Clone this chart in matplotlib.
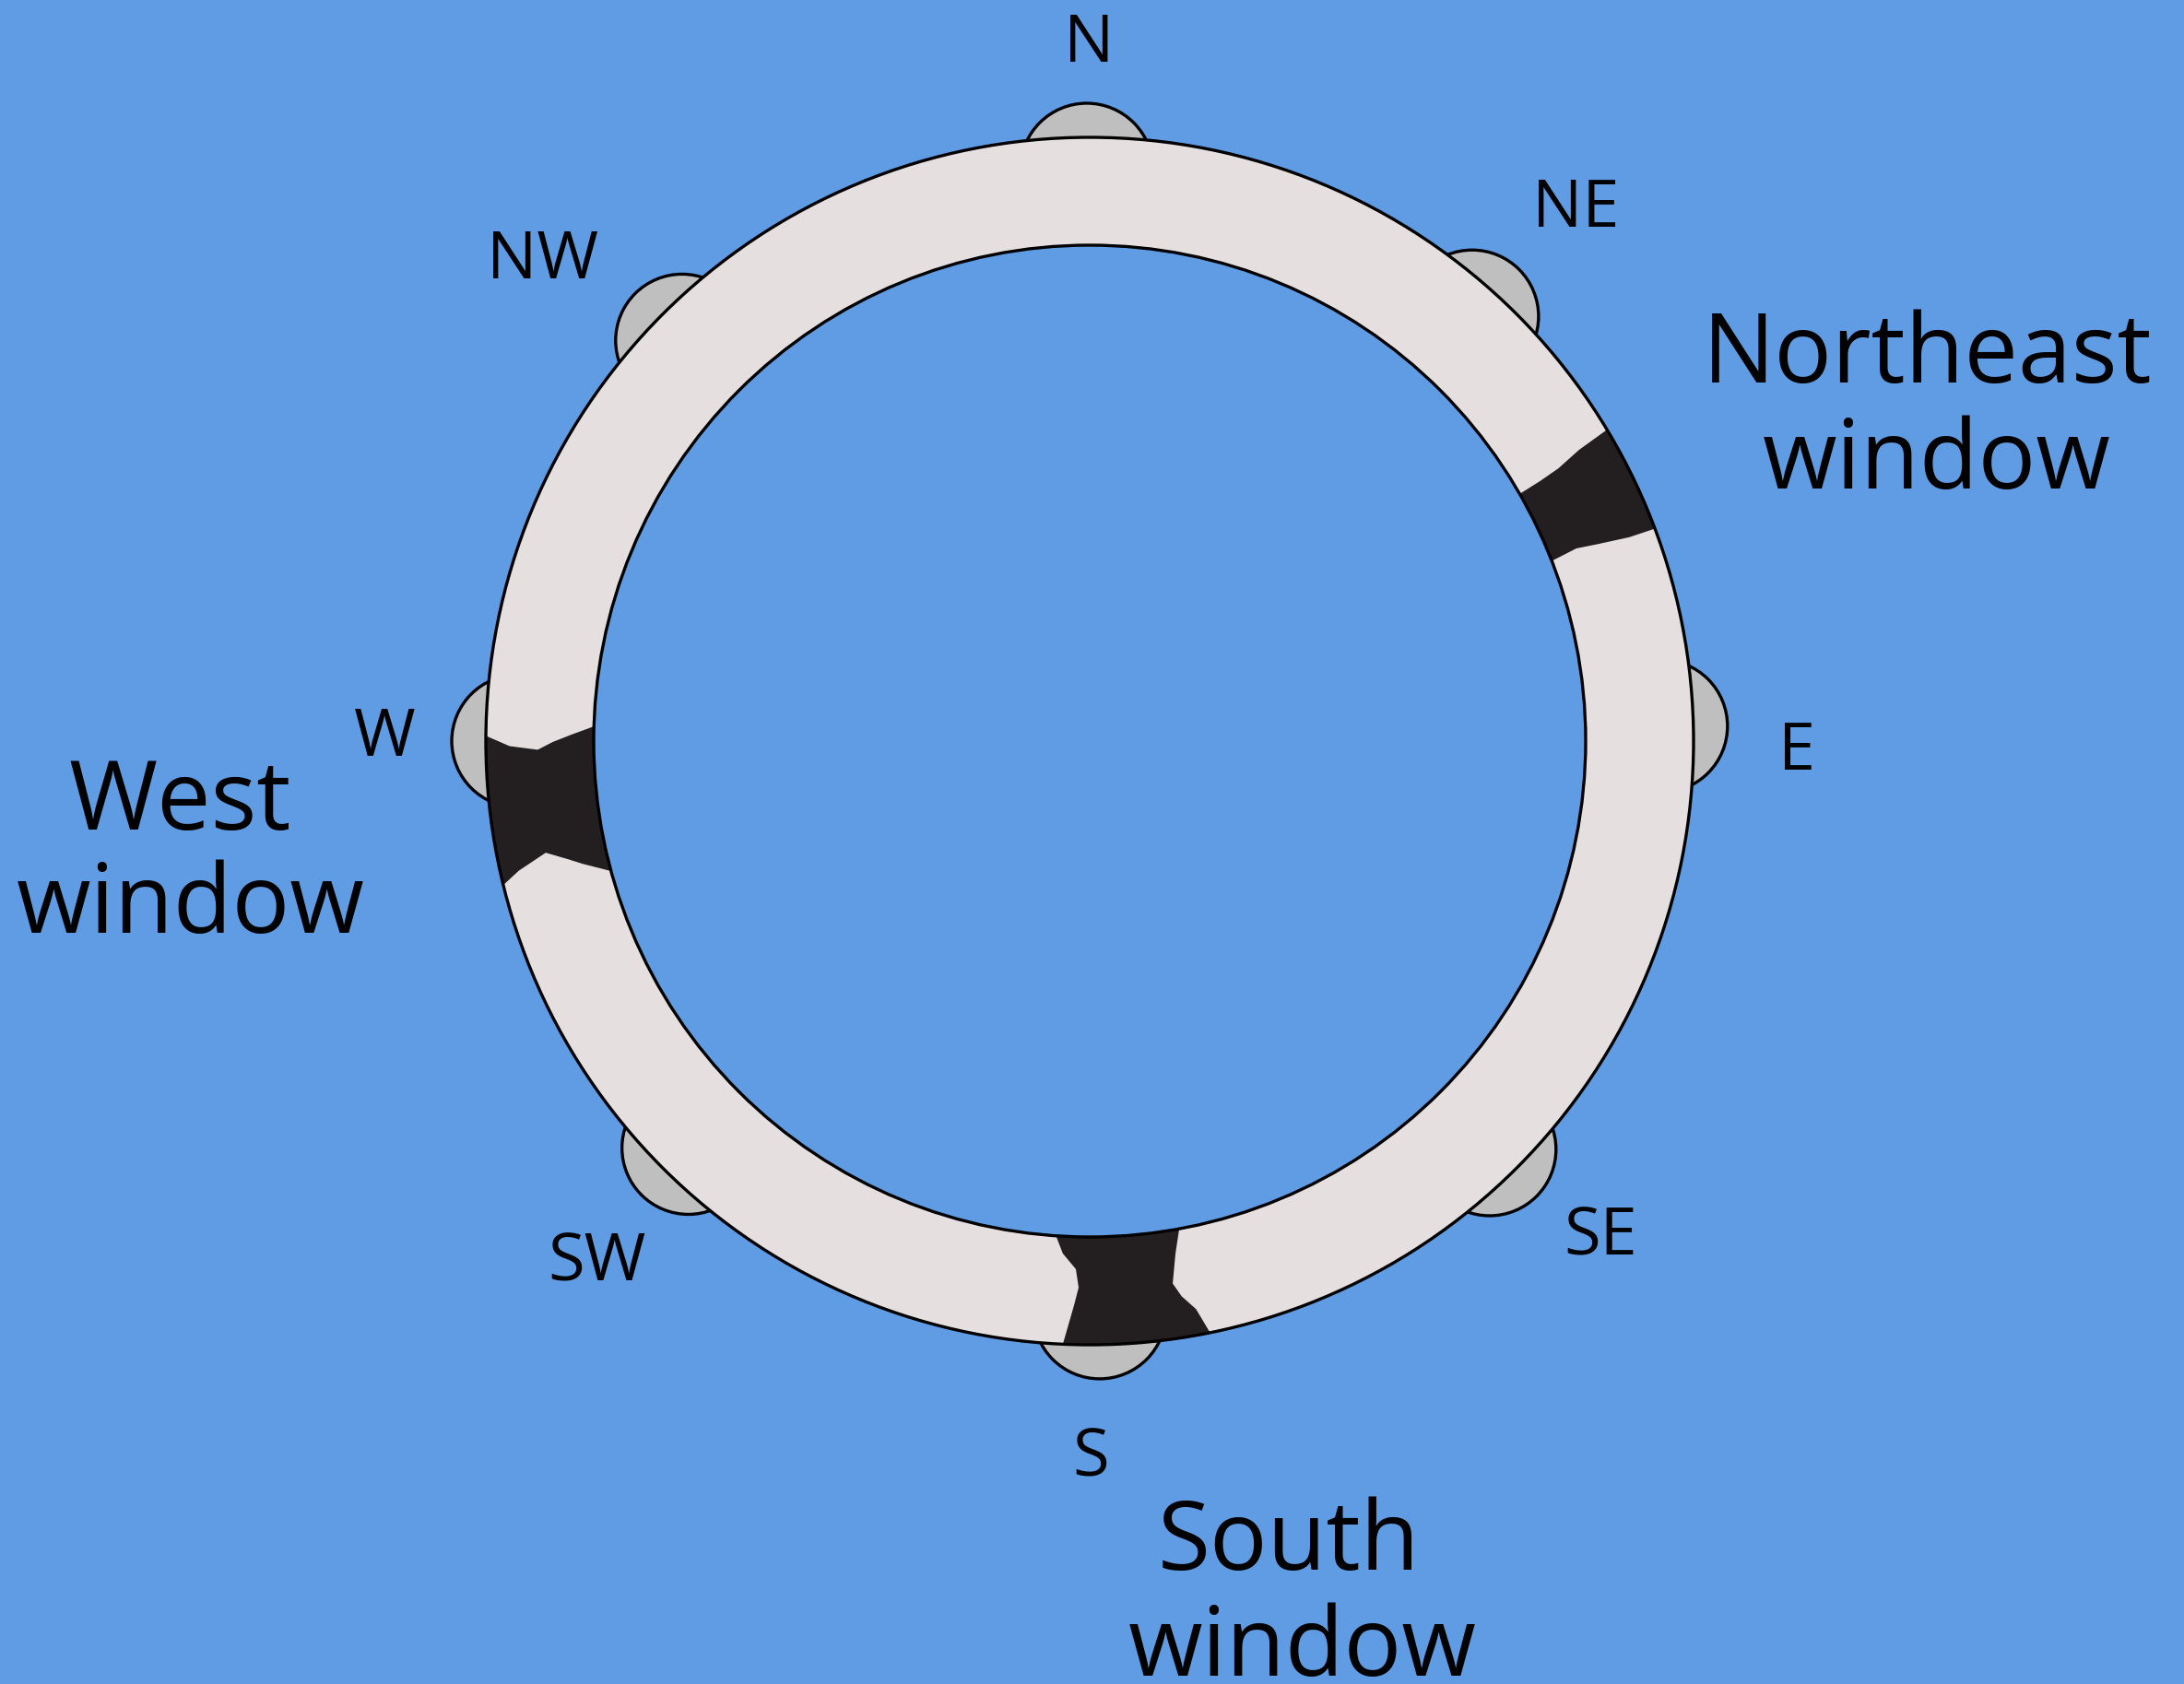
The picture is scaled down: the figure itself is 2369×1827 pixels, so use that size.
import numpy as np
import matplotlib
matplotlib.use("Agg")
import matplotlib.pyplot as plt
from matplotlib.patches import Circle, Polygon

plt.rcParams['font.family'] = ['Open Sans', 'DejaVu Sans']

# ring geometry (pixels of the 2369x1827 picture)
cx, cy = 1182, 804
r_in, r_out = 538, 655

# small grey bumps round the ring: angle in degrees (0 = east, counter-clockwise)
bump_angles = [90.3, 48.0, 1.5, -45.6, -89.0, -134.6, 180.0, 135.5]
bump_dist = 620
bump_r = 72

# compass labels: text, x, baseline y
compass_text = ['N', 'NE', 'E', 'SE', 'S', 'SW', 'W', 'NW']
compass_x = [1181, 1709, 1949, 1736, 1183, 647, 417, 589]
compass_y = [67, 246, 835, 1361, 1601, 1390, 820, 302]

# window edges: (angle deg, t) with t = 0 at the inner rim and 1 at the outer rim
ne_edge_a = [(21.3, 0.0), (21.6, 0.255), (21.2, 0.45), (20.7, 0.75), (20.6, 1.0)]
ne_edge_b = [(29.9, 0.0), (30.0, 0.22), (30.2, 0.43), (30.76, 0.68), (31.05, 1.0)]
w_edge_a = [(178.3, 0.0), (179.3, 0.21), (180.1, 0.38), (180.9, 0.52), (180.5, 0.78), (179.5, 1.0)]
w_edge_b = [(195.2, 0.0), (193.6, 0.24), (192.8, 0.355), (191.6, 0.55), (192.8, 0.83), (193.8, 1.0)]
s_edge_a = [(266.1, 0.0), (267.0, 0.16), (268.5, 0.30), (268.84, 0.47), (268.4, 0.64), (267.45, 1.0)]
s_edge_b = [(280.4, 0.0), (279.5, 0.22), (278.7, 0.49), (279.4, 0.62), (280.6, 0.76), (281.5, 1.0)]
windows = [(ne_edge_a, ne_edge_b), (w_edge_a, w_edge_b), (s_edge_a, s_edge_b)]

# big labels: line, x centre, baseline y
big_text = ['Northeast', 'window', 'West', 'window', 'South', 'window']
big_x = [2091, 2101, 195, 207, 1398, 1413]
big_y = [415, 530, 900, 1012, 1703, 1818]

bg = '#5F9CE4'
ring_col = '#E6DFE0'
bump_col = '#BFBFBF'
win_col = '#231F20'
lw = 2.4


def polar(ang, rad):
    a = np.radians(ang)
    return cx + rad * np.cos(a), cy - rad * np.sin(a)


def window_poly(edge_a, edge_b):
    pts = []
    for ang, t in edge_a:
        pts.append(polar(ang, r_in + t * (r_out - r_in)))
    for ang in np.linspace(edge_a[-1][0], edge_b[-1][0], 30):
        pts.append(polar(ang, r_out + 1))
    for ang, t in reversed(edge_b):
        pts.append(polar(ang, r_in + t * (r_out - r_in)))
    for ang in np.linspace(edge_b[0][0], edge_a[0][0], 30):
        pts.append(polar(ang, r_in - 1))
    return pts


fig = plt.figure(figsize=(23.69, 18.27), dpi=100)
fig.patch.set_facecolor(bg)
ax = fig.add_axes([0, 0, 1, 1])
ax.set_facecolor(bg)
ax.set_xlim(0, 2369)
ax.set_ylim(1827, 0)
ax.set_aspect('equal')
ax.axis('off')

for ang in bump_angles:
    bx, by = polar(ang, bump_dist)
    ax.add_patch(Circle((bx, by), bump_r, facecolor=bump_col, edgecolor='black', lw=lw, zorder=1))

ax.add_patch(Circle((cx, cy), r_out, facecolor=ring_col, edgecolor='none', zorder=2))
ax.add_patch(Circle((cx, cy), r_in, facecolor=bg, edgecolor='none', zorder=3))

for ea, eb in windows:
    ax.add_patch(Polygon(window_poly(ea, eb), closed=True, facecolor=win_col, edgecolor='none', zorder=4))

ax.add_patch(Circle((cx, cy), r_out, facecolor='none', edgecolor='black', lw=lw, zorder=5))
ax.add_patch(Circle((cx, cy), r_in, facecolor='none', edgecolor='black', lw=lw, zorder=5))

for txt, x, y in zip(compass_text, compass_x, compass_y):
    ax.text(x, y, txt, fontsize=52, ha='center', va='baseline', color='black')

for txt, x, y in zip(big_text, big_x, big_y):
    ax.text(x, y, txt, fontsize=75, ha='center', va='baseline', color='black')

fig.savefig('out.png', dpi=100, facecolor=bg)
